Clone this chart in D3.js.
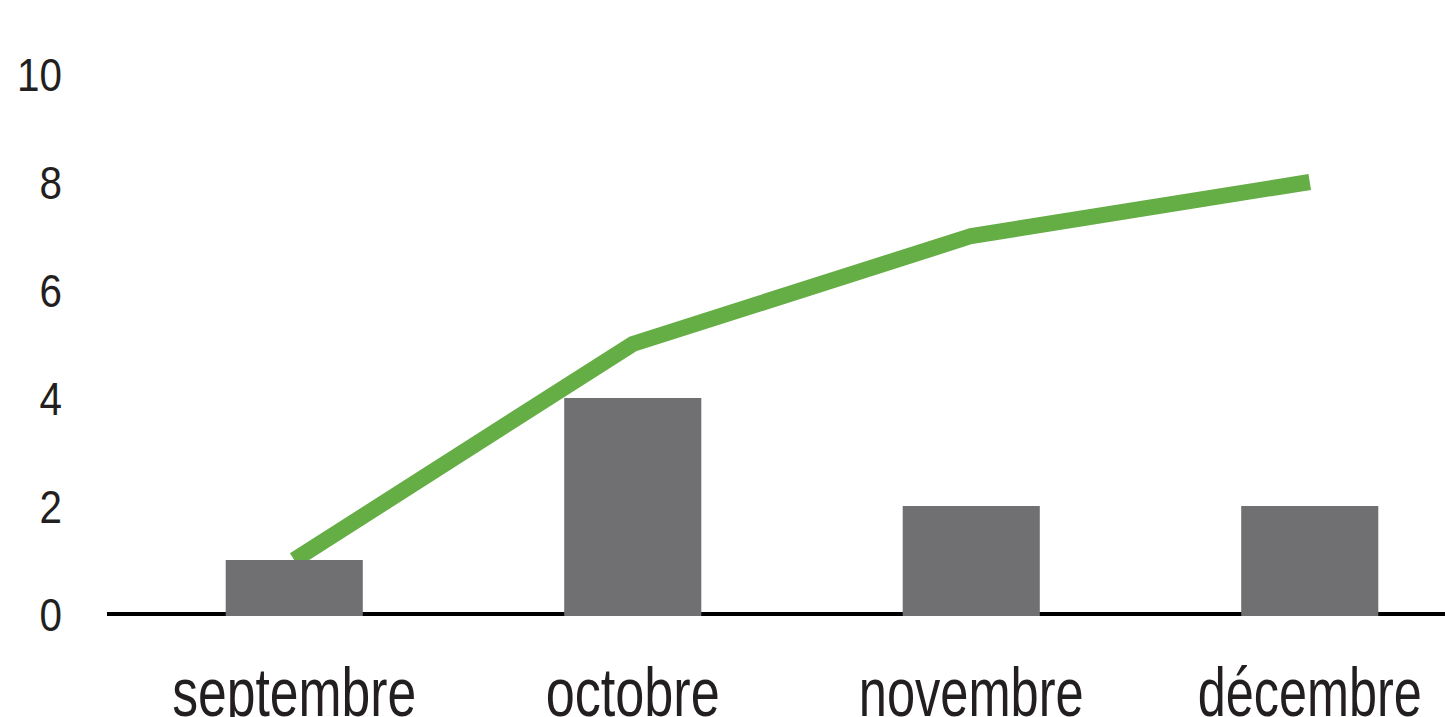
<!DOCTYPE html>
<html>
<head>
<meta charset="utf-8">
<script src="https://cdn.jsdelivr.net/npm/d3@7"></script>
<style>
  body { margin: 0; background: #fff; }
  svg { display: block; }
</style>
</head>
<body>
<div id="chart"></div>
<script>
// data
var months = ["septembre", "octobre", "novembre", "décembre"];
var barValues = [1, 4, 2, 2];
var lineValues = [1, 5, 7, 8];
var yTicks = [0, 2, 4, 6, 8, 10];
// label widths (condensed face look)
var labelWidths = [244, 174, 225, 224];

var svgWidth = 1445;
var svgHeight = 717;

var svg = d3.select("#chart")
    .append("svg")
    .attr("width", svgWidth)
    .attr("height", svgHeight);

// scales
var xScale = d3.scaleBand()
    .domain(months)
    .range([125, 1479])
    .paddingInner(0.595)
    .paddingOuter(0.2975);

var yScale = d3.scaleLinear()
    .domain([0, 10])
    .range([614, 74]);

// y labels
var yAxis = d3.axisLeft(yScale)
    .tickValues(yTicks)
    .tickSize(0)
    .tickPadding(0);

var yG = svg.append("g")
    .attr("transform", "translate(62, 0) scale(0.86, 1)")
    .call(yAxis);
yG.select(".domain").remove();
yG.selectAll("text")
    .attr("fill", "#231f20")
    .style("font-family", "'Liberation Sans', sans-serif")
    .style("font-size", "47px")
    .attr("dy", "0.36em");

// baseline
svg.append("line")
    .attr("x1", 107)
    .attr("x2", svgWidth)
    .attr("y1", yScale(0))
    .attr("y2", yScale(0))
    .attr("stroke", "#000")
    .attr("stroke-width", 4);

// line (behind bars)
var line = d3.line()
    .x(function(d, i) { return xScale(months[i]) + xScale.bandwidth() / 2; })
    .y(function(d) { return yScale(d); });

svg.append("path")
    .datum(lineValues)
    .attr("d", line)
    .attr("fill", "none")
    .attr("stroke", "#65ad45")
    .attr("stroke-width", 16)
    .attr("stroke-linejoin", "miter");

// bars
svg.selectAll("rect.bar")
    .data(barValues)
    .enter()
    .append("rect")
    .attr("class", "bar")
    .attr("x", function(d, i) { return xScale(months[i]); })
    .attr("y", function(d) { return yScale(d); })
    .attr("width", xScale.bandwidth())
    .attr("height", function(d) { return yScale(0) - yScale(d) + 2; })
    .attr("fill", "#707073");

// x labels
var xAxis = d3.axisBottom(xScale).tickSize(0).tickPadding(0);
var xG = svg.append("g")
    .attr("transform", "translate(0, 716)")
    .call(xAxis);
xG.select(".domain").remove();
xG.selectAll("text")
    .attr("y", 0)
    .attr("dy", 0)
    .attr("fill", "#231f20")
    .attr("textLength", function(d, i) { return labelWidths[i]; })
    .attr("lengthAdjust", "spacingAndGlyphs")
    .style("font-family", "'Liberation Sans', sans-serif")
    .style("font-size", "68px");
</script>
</body>
</html>
